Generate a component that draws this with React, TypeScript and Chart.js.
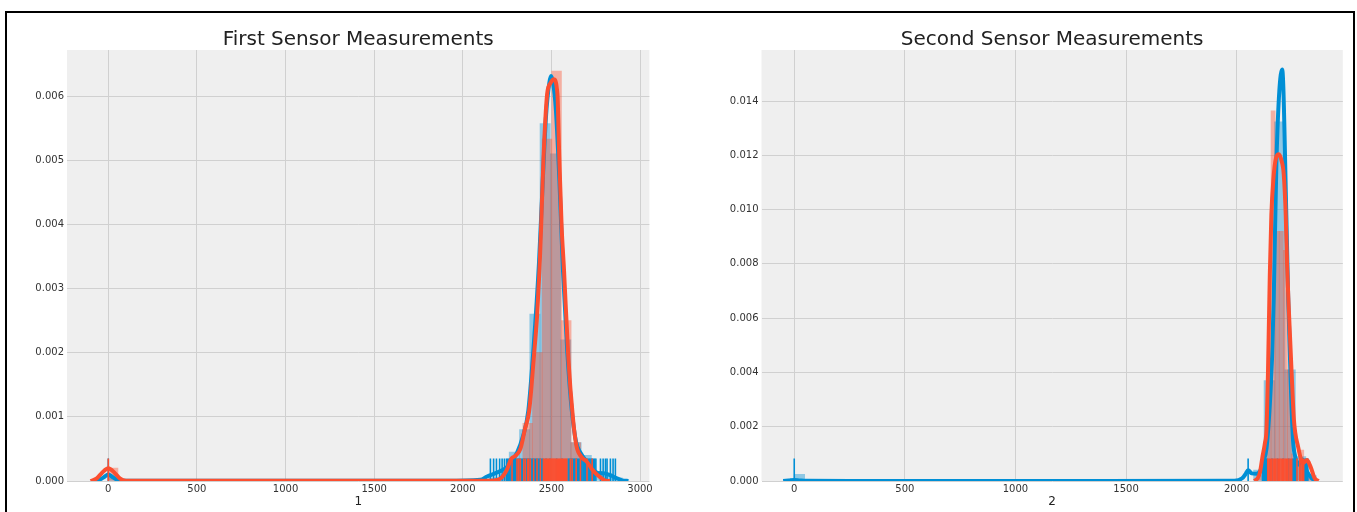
import React, { useEffect, useRef } from 'react';
import { Chart, registerables } from 'chart.js';

Chart.register(...registerables);
Chart.defaults.font.family = "'DejaVu Sans', 'Liberation Sans', sans-serif";

const BLUE = '#008fd5';
const RED = '#fc4f30';
const BLUE_FILL = 'rgba(0,143,213,0.4)';
const RED_FILL = 'rgba(252,79,48,0.4)';

// ---------- Left panel: First Sensor ----------
const leftTitle = 'First Sensor Measurements';
const leftXLabel = '1';
const leftXMin = -233;
const leftXMax = 3053;
const leftYMax = 0.006717;
const leftXTicks = [0, 500, 1000, 1500, 2000, 2500, 3000];
const leftYTicks = [0, 0.001, 0.002, 0.003, 0.004, 0.005, 0.006];

const leftBlueHistX = [29, 2175, 2233, 2291, 2349, 2407, 2465, 2523, 2581, 2639, 2697, 2755, 2813, 2871];
const leftBlueHistY = [0.00008, 0.00005, 0.0001, 0.00045, 0.0008, 0.0026, 0.00557, 0.0051, 0.0022, 0.0006, 0.0004, 0.00015, 0.0001, 0.00005];
const leftRedHistX = [27.2, 2257.6, 2312, 2366.4, 2420.8, 2475.2, 2529.6, 2584, 2638.4, 2692.8];
const leftRedHistY = [0.0002, 0.0001, 0.0003, 0.0009, 0.002, 0.00533, 0.00639, 0.0025, 0.0006, 0.0003];

const leftBlueKdeX = [-95, -50, -25, 0, 25, 50, 95, 400, 1200, 1900, 2100, 2137, 2200, 2250, 2306, 2340, 2370, 2400, 2430, 2450, 2470, 2488, 2498, 2510, 2525, 2545, 2565, 2590, 2615, 2640, 2664, 2700, 2737, 2770, 2795, 2833, 2870, 2900, 2935];
const leftBlueKdeY = [0, 0.00002, 0.00006, 0.0001, 0.00006, 0.00002, 0.000003, 0.000002, 0.000002, 0.000003, 0.00002, 0.00007, 0.00014, 0.00022, 0.00044, 0.0007, 0.0011, 0.0021, 0.0034, 0.0046, 0.0057, 0.0062, 0.00631, 0.0062, 0.0058, 0.0047, 0.0033, 0.002, 0.0011, 0.0006, 0.00044, 0.0003, 0.00017, 0.00012, 0.00012, 0.00009, 0.00004, 0.00001, 0];
const leftRedKdeX = [-100, -65, -35, 0, 35, 65, 100, 500, 1500, 2150, 2200, 2225, 2250, 2272, 2300, 2325, 2350, 2375, 2400, 2420, 2433, 2442, 2455, 2476, 2495, 2513, 2534, 2545, 2558, 2571, 2596, 2621, 2641, 2668, 2700, 2725, 2750, 2775, 2800, 2830];
const leftRedKdeY = [0, 0.00004, 0.00013, 0.0002, 0.00013, 0.00004, 0.000005, 0.000002, 0.000002, 0.000005, 0.00002, 0.00007, 0.00018, 0.00034, 0.0004, 0.0005, 0.0008, 0.0011, 0.0019, 0.0026, 0.0033, 0.00395, 0.005, 0.00603, 0.0062, 0.00626, 0.00603, 0.005, 0.00395, 0.0033, 0.0019, 0.001, 0.00055, 0.00038, 0.0003, 0.0002, 0.00012, 0.00006, 0.00001, 0];

const leftBlueRug = [0, 2156, 2174, 2190, 2208, 2222, 2235, 2247, 2253, 2260, 2266, 2273, 2279, 2286, 2292, 2299, 2305, 2312, 2318, 2325, 2332, 2338, 2345, 2351, 2358, 2364, 2371, 2377, 2384, 2391, 2397, 2404, 2411, 2417, 2424, 2431, 2437, 2444, 2451, 2470, 2492, 2530, 2560, 2594, 2601, 2607, 2614, 2620, 2627, 2633, 2640, 2646, 2653, 2659, 2666, 2672, 2679, 2685, 2692, 2699, 2705, 2712, 2718, 2725, 2731, 2738, 2744, 2751, 2777, 2792, 2805, 2814, 2833, 2848, 2861];
const leftRedRug = [0, 2278, 2306, 2316, 2325, 2344, 2353, 2366, 2372, 2381, 2400, 2419, 2438, 2455, 2461, 2467, 2473, 2479, 2485, 2491, 2497, 2503, 2509, 2515, 2521, 2527, 2533, 2539, 2545, 2551, 2557, 2563, 2569, 2575, 2581, 2587, 2607, 2617, 2640, 2664, 2701, 2730];

// ---------- Right panel: Second Sensor ----------
const rightTitle = 'Second Sensor Measurements';
const rightXLabel = '2';
const rightXMin = -148;
const rightXMax = 2480;
const rightYMax = 0.01588;
const rightXTicks = [0, 500, 1000, 1500, 2000];
const rightYTicks = [0, 0.002, 0.004, 0.006, 0.008, 0.01, 0.012, 0.014];

const rightBlueHistX = [23.6, 2100.4, 2147.6, 2194.8, 2242, 2289.2, 2336.4];
const rightBlueHistY = [0.00025, 0.0004, 0.0037, 0.01323, 0.0041, 0.0009, 0.0002];
const rightRedHistX = [2109.25, 2127.75, 2146.25, 2164.75, 2183.25, 2201.75, 2220.25, 2238.75, 2257.25, 2275.75, 2294.25, 2312.75, 2331.25];
const rightRedHistY = [0.0002, 0.0006, 0.003, 0.01364, 0.0092, 0.0092, 0.0085, 0.0041, 0.001, 0.0005, 0.00114, 0.0007, 0.0002];

const rightBlueKdeX = [-50, -25, 0, 25, 55, 600, 1400, 1990, 2025, 2040, 2052, 2068, 2090, 2105, 2120, 2135, 2150, 2160, 2168, 2180, 2206, 2225, 2233, 2245, 2255, 2265, 2278, 2295, 2318, 2340, 2360];
const rightBlueKdeY = [0, 0.00002, 0.00004, 0.00002, 0.000005, 0.000004, 0.000004, 0.00001, 0.0001, 0.00025, 0.0004, 0.00028, 0.00027, 0.00035, 0.0007, 0.0012, 0.0028, 0.0045, 0.0068, 0.0118, 0.01516, 0.0097, 0.0068, 0.0035, 0.0015, 0.0009, 0.0006, 0.0008, 0.00035, 0.0001, 0];
const rightRedKdeX = [2080, 2095, 2105, 2117, 2128, 2135, 2142, 2150, 2157, 2166, 2178, 2191, 2203, 2213, 2222, 2228, 2235, 2248, 2259, 2278, 2300, 2318, 2334, 2353, 2370];
const rightRedKdeY = [0, 0.0001, 0.0003, 0.0009, 0.0014, 0.0019, 0.0041, 0.0076, 0.0098, 0.0111, 0.0119, 0.01204, 0.0118, 0.0113, 0.0098, 0.008, 0.0065, 0.0041, 0.00225, 0.00126, 0.00066, 0.00077, 0.00053, 0.0001, 0];

const rightBlueRug = [0, 2052, 2117, 2121, 2125, 2129, 2133, 2137, 2160, 2185, 2210, 2235, 2254, 2259, 2263, 2267, 2271, 2285, 2300, 2307, 2312, 2317, 2322];
const rightRedRug = [2141, 2147, 2153, 2159, 2165, 2171, 2177, 2183, 2189, 2195, 2201, 2207, 2213, 2219, 2225, 2231, 2237, 2243, 2249, 2273, 2285, 2291, 2297, 2303];

const RUG_FRACTION = 0.052;

const plotBg = {
  id: 'plotBg',
  beforeDraw(chart: any) {
    const { ctx, chartArea: a } = chart;
    if (!a) return;
    ctx.save();
    ctx.fillStyle = '#efefef';
    ctx.fillRect(a.left, a.top, a.right - a.left, a.bottom - a.top);
    ctx.restore();
  },
};

function pts(xs: number[], ys: number[]) {
  return xs.map((x, i) => ({ x, y: ys[i] }));
}

function rugPts(xs: number[], yMax: number) {
  return xs.map((x) => ({ x, y: (yMax * RUG_FRACTION) / 2 }));
}

function histSet(xs: number[], ys: number[], color: string, axis: string, order: number) {
  return {
    type: 'bar',
    xAxisID: axis,
    data: pts(xs, ys),
    backgroundColor: color,
    borderWidth: 0,
    barPercentage: 1,
    categoryPercentage: 1,
    grouped: false,
    order,
  };
}

function kdeSet(xs: number[], ys: number[], color: string, order: number) {
  return {
    type: 'line',
    data: pts(xs, ys),
    borderColor: color,
    borderWidth: 4,
    pointRadius: 0,
    fill: false,
    cubicInterpolationMode: 'monotone',
    clip: 0,
    order,
  };
}

function rugSet(xs: number[], yMax: number, color: string, order: number) {
  return {
    type: 'scatter',
    data: rugPts(xs, yMax),
    pointStyle: 'line',
    pointRotation: 90,
    pointRadius: (ctx: any) => {
      const a = ctx.chart.chartArea;
      return a ? ((a.bottom - a.top) * RUG_FRACTION) / 2 : 11;
    },
    pointHoverRadius: 0,
    pointBorderColor: color,
    pointBackgroundColor: color,
    pointBorderWidth: 1.6,
    order,
  };
}

function hiddenX(o: any) {
  return {
    type: 'linear',
    display: false,
    min: o.xMin,
    max: o.xMax,
    offset: false,
    grid: { offset: false },
  };
}

function makeConfig(o: any) {
  const gridColor = '#d0d0d0';
  return {
    type: 'line',
    data: {
      datasets: [
        histSet(o.blueHistX, o.blueHistY, BLUE_FILL, 'xb', 6),
        histSet(o.redHistX, o.redHistY, RED_FILL, 'xr', 5),
        kdeSet(o.blueKdeX, o.blueKdeY, BLUE, 4),
        rugSet(o.blueRug, o.yMax, BLUE, 3),
        kdeSet(o.redKdeX, o.redKdeY, RED, 2),
        rugSet(o.redRug, o.yMax, RED, 1),
      ],
    },
    options: {
      responsive: false,
      animation: false,
      events: [],
      layout: { padding: { left: 0, right: o.padRight, top: 0, bottom: 0 } },
      plugins: {
        legend: { display: false },
        tooltip: { enabled: false },
        title: {
          display: true,
          text: o.title,
          fullSize: false,
          color: '#222',
          font: { size: 20, weight: 'normal', lineHeight: 1 },
          padding: { top: 30, bottom: 0 },
        },
      },
      scales: {
        x: {
          type: 'linear',
          min: o.xMin,
          max: o.xMax,
          offset: false,
          grid: { color: gridColor, lineWidth: 1, drawTicks: false, offset: false },
          border: { display: false },
          ticks: {
            autoSkip: false,
            maxRotation: 0,
            padding: 2,
            color: '#333',
            font: { size: 10 },
            callback: (v: any) => String(v),
          },
          afterBuildTicks: (s: any) => {
            s.ticks = o.xTicks.map((v: number) => ({ value: v }));
          },
          title: {
            display: true,
            text: o.xLabel,
            color: '#222',
            font: { size: 12 },
            padding: { top: 0, bottom: 3 },
          },
          afterFit: (s: any) => {
            s.height = 31;
          },
        },
        xb: hiddenX(o),
        xr: hiddenX(o),
        y: {
          type: 'linear',
          min: 0,
          max: o.yMax,
          grid: { color: gridColor, lineWidth: 1, drawTicks: false },
          border: { display: false },
          ticks: {
            padding: 3,
            color: '#333',
            font: { size: 10 },
            callback: (v: any) => Number(v).toFixed(3),
          },
          afterBuildTicks: (s: any) => {
            s.ticks = o.yTicks.map((v: number) => ({ value: v }));
          },
          afterFit: (s: any) => {
            s.width = o.yAxisWidth;
          },
        },
      },
    },
    plugins: [plotBg],
  };
}

export default function App() {
  const leftRef = useRef<HTMLCanvasElement>(null);
  const rightRef = useRef<HTMLCanvasElement>(null);

  useEffect(() => {
    document.body.style.margin = '0';
    document.body.style.overflow = 'hidden';
    const c1 = new Chart(
      leftRef.current as HTMLCanvasElement,
      makeConfig({
        title: leftTitle, xLabel: leftXLabel, xMin: leftXMin, xMax: leftXMax, yMax: leftYMax,
        xTicks: leftXTicks, yTicks: leftYTicks,
        blueHistX: leftBlueHistX, blueHistY: leftBlueHistY, redHistX: leftRedHistX, redHistY: leftRedHistY,
        blueKdeX: leftBlueKdeX, blueKdeY: leftBlueKdeY, redKdeX: leftRedKdeX, redKdeY: leftRedKdeY,
        blueRug: leftBlueRug, redRug: leftRedRug,
        yAxisWidth: 67, padRight: 30.6,
      }) as any
    );
    const c2 = new Chart(
      rightRef.current as HTMLCanvasElement,
      makeConfig({
        title: rightTitle, xLabel: rightXLabel, xMin: rightXMin, xMax: rightXMax, yMax: rightYMax,
        xTicks: rightXTicks, yTicks: rightYTicks,
        blueHistX: rightBlueHistX, blueHistY: rightBlueHistY, redHistX: rightRedHistX, redHistY: rightRedHistY,
        blueKdeX: rightBlueKdeX, blueKdeY: rightBlueKdeY, redKdeX: rightRedKdeX, redKdeY: rightRedKdeY,
        blueRug: rightBlueRug, redRug: rightRedRug,
        yAxisWidth: 81.5, padRight: 14.2,
      }) as any
    );
    return () => {
      c1.destroy();
      c2.destroy();
    };
  }, []);

  return (
    <div style={{ position: 'absolute', left: 0, top: 0, width: 1357, height: 512, overflow: 'hidden', background: '#fff' }}>
      <div
        style={{
          position: 'absolute', left: 5, top: 11, width: 1350, height: 560,
          border: '2px solid #000', boxSizing: 'border-box',
        }}
      />
      <canvas ref={leftRef} width={680} height={512} style={{ position: 'absolute', left: 0, top: 0 }} />
      <canvas ref={rightRef} width={677} height={512} style={{ position: 'absolute', left: 680, top: 0 }} />
    </div>
  );
}
